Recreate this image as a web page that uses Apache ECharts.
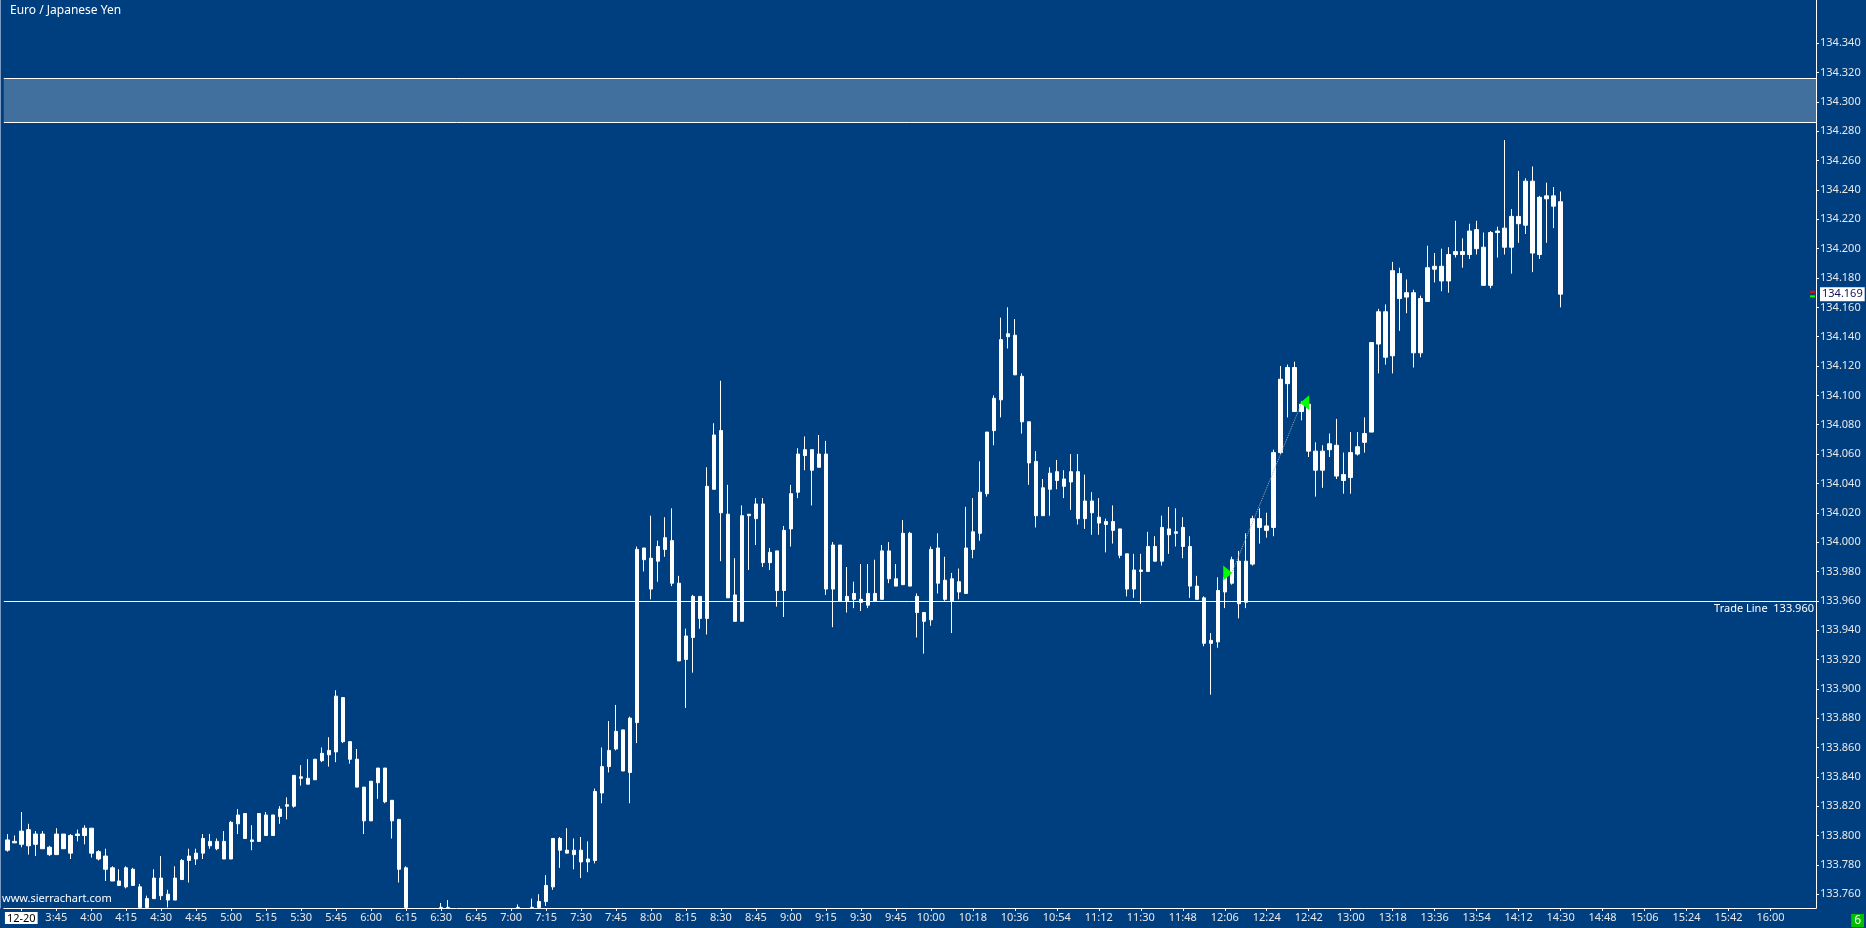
<!DOCTYPE html>
<html><head><meta charset="utf-8">
<script src="https://cdn.jsdelivr.net/npm/echarts@6/dist/echarts.min.js"></script>
<style>html,body{margin:0;padding:0;background:#003f7f;}#c{width:1866px;height:928px;}</style>
</head><body><div id="c"></div>
<script>
// 3-minute slots on the time axis (first bar 3:24)
const timeSlots = [
'3:24','3:27','3:30','3:33','3:36','3:39','3:42','3:45','3:48','3:51','3:54','3:57',
'4:00','4:03','4:06','4:09','4:12','4:15','4:18','4:21','4:24','4:27','4:30','4:33','4:36','4:39','4:42','4:45','4:48','4:51','4:54','4:57',
'5:00','5:03','5:06','5:09','5:12','5:15','5:18','5:21','5:24','5:27','5:30','5:33','5:36','5:39','5:42','5:45','5:48','5:51','5:54','5:57',
'6:00','6:03','6:06','6:09','6:12','6:15','6:18','6:21','6:24','6:27','6:30','6:33','6:36','6:39','6:42','6:45','6:48','6:51','6:54','6:57',
'7:00','7:03','7:06','7:09','7:12','7:15','7:18','7:21','7:24','7:27','7:30','7:33','7:36','7:39','7:42','7:45','7:48','7:51','7:54','7:57',
'8:00','8:03','8:06','8:09','8:12','8:15','8:18','8:21','8:24','8:27','8:30','8:33','8:36','8:39','8:42','8:45','8:48','8:51','8:54','8:57',
'9:00','9:03','9:06','9:09','9:12','9:15','9:18','9:21','9:24','9:27','9:30','9:33','9:36','9:39','9:42','9:45','9:48','9:51','9:54','9:57',
'10:00','10:03','10:06','10:09','10:12','10:15','10:18','10:21','10:24','10:27','10:30','10:33','10:36','10:39','10:42','10:45','10:48','10:51','10:54','10:57',
'11:00','11:03','11:06','11:09','11:12','11:15','11:18','11:21','11:24','11:27','11:30','11:33','11:36','11:39','11:42','11:45','11:48','11:51','11:54','11:57',
'12:00','12:03','12:06','12:09','12:12','12:15','12:18','12:21','12:24','12:27','12:30','12:33','12:36','12:39','12:42','12:45','12:48','12:51','12:54','12:57',
'13:00','13:03','13:06','13:09','13:12','13:15','13:18','13:21','13:24','13:27','13:30','13:33','13:36','13:39','13:42','13:45','13:48','13:51','13:54','13:57',
'14:00','14:03','14:06','14:09','14:12','14:15','14:18','14:21','14:24','14:27','14:30','14:33','14:36','14:39','14:42','14:45','14:48','14:51','14:54','14:57',
'15:00','15:03','15:06','15:09','15:12','15:15','15:18','15:21','15:24','15:27','15:30','15:33','15:36','15:39','15:42','15:45','15:48','15:51','15:54','15:57',
'16:00','16:03','16:06','16:09','16:12','16:15','16:18'
];

// EUR/JPY 3-minute bars: [open, close, low, high]
// (where a bar runs off the bottom of the visible range, the hidden part is read as the chart floor 133.751)
const eurJpyBars = [
[133.790,133.797,133.789,133.801],[133.795,133.796,133.795,133.800],[133.803,133.794,133.792,133.816],[133.804,133.793,133.787,133.808],
[133.801,133.794,133.786,133.803],[133.801,133.791,133.791,133.803],[133.787,133.792,133.786,133.793],[133.787,133.801,133.787,133.805],
[133.801,133.791,133.791,133.801],[133.788,133.800,133.784,133.801],[133.800,133.801,133.796,133.804],[133.805,133.800,133.794,133.807],
[133.805,133.788,133.785,133.805],[133.789,133.784,133.783,133.790],[133.786,133.777,133.769,133.791],[133.778,133.769,133.769,133.779],
[133.766,133.769,133.766,133.777],[133.778,133.765,133.764,133.779],[133.777,133.766,133.766,133.778],[133.765,133.751,133.751,133.767],
[133.751,133.757,133.751,133.759],[133.757,133.771,133.757,133.777],[133.771,133.759,133.756,133.786],[133.756,133.760,133.751,133.763],
[133.756,133.771,133.756,133.779],[133.770,133.783,133.770,133.784],[133.783,133.786,133.768,133.791],[133.784,133.788,133.780,133.791],
[133.788,133.798,133.784,133.801],[133.796,133.793,133.791,133.801],[133.796,133.791,133.790,133.798],[133.784,133.796,133.784,133.803],
[133.784,133.809,133.784,133.810],[133.814,133.808,133.801,133.818],[133.815,133.798,133.798,133.815],[133.796,133.797,133.790,133.807],
[133.796,133.815,133.796,133.815],[133.814,133.800,133.800,133.816],[133.800,133.814,133.800,133.814],[133.813,133.818,133.808,133.820],
[133.820,133.821,133.811,133.826],[133.820,133.841,133.819,133.841],[133.840,133.839,133.834,133.848],[133.835,133.839,133.835,133.852],
[133.838,133.852,133.838,133.852],[133.851,133.856,133.850,133.860],[133.855,133.858,133.847,133.867],[133.857,133.895,133.850,133.899],
[133.894,133.864,133.863,133.894],[133.864,133.852,133.849,133.864],[133.852,133.833,133.833,133.859],[133.833,133.810,133.801,133.833],
[133.810,133.837,133.810,133.837],[133.846,133.836,133.825,133.846],[133.846,133.823,133.822,133.846],[133.824,133.810,133.798,133.824],
[133.811,133.777,133.768,133.811],[133.778,133.751,133.751,133.779],[133.738,133.722,133.718,133.741],[133.718,133.730,133.712,133.736],
[133.728,133.720,133.715,133.734],[133.726,133.742,133.722,133.746],[133.751,133.751,133.751,133.754],[133.751,133.751,133.751,133.756],
[133.740,133.728,133.724,133.745],[133.734,133.722,133.718,133.742],[133.730,133.716,133.712,133.736],[133.714,133.726,133.710,133.732],
[133.720,133.732,133.716,133.738],[133.726,133.736,133.722,133.742],[133.728,133.738,133.724,133.744],[133.732,133.742,133.728,133.748],
[133.734,133.744,133.730,133.749],[133.751,133.751,133.751,133.753],[133.735,133.744,133.731,133.749],[133.751,133.751,133.751,133.757],
[133.751,133.755,133.751,133.760],[133.755,133.766,133.752,133.773],[133.765,133.798,133.763,133.798],[133.798,133.790,133.778,133.799],
[133.790,133.788,133.788,133.805],[133.790,133.787,133.777,133.798],[133.790,133.782,133.771,133.799],[133.782,133.784,133.775,133.796],
[133.783,133.830,133.781,133.832],[133.829,133.847,133.822,133.860],[133.847,133.858,133.843,133.878],[133.859,133.871,133.858,133.889],
[133.872,133.844,133.844,133.872],[133.843,133.880,133.822,133.881],[133.877,133.995,133.863,133.997],[133.996,133.988,133.980,133.996],
[133.989,133.968,133.961,134.018],[133.987,133.997,133.973,134.001],[133.995,134.003,133.990,134.017],[134.001,133.972,133.970,134.023],
[133.972,133.919,133.919,133.977],[133.920,133.936,133.887,133.941],[133.935,133.963,133.911,133.964],[133.963,133.948,133.941,133.963],
[133.948,134.038,133.937,134.051],[134.036,134.073,134.036,134.081],[134.076,134.020,133.987,134.110],[134.019,133.962,133.962,134.039],
[133.964,133.946,133.946,133.989],[133.946,134.018,133.946,134.025],[134.019,134.018,133.981,134.019],[134.016,134.026,133.998,134.030],
[134.026,133.986,133.983,134.030],[133.986,133.993,133.981,133.996],[133.994,133.967,133.956,133.994],[133.967,134.008,133.949,134.011],
[134.009,134.033,133.997,134.039],[134.034,134.060,134.030,134.064],[134.059,134.063,134.049,134.072],[134.063,134.049,134.025,134.063],
[134.051,134.060,134.051,134.073],[134.060,133.968,133.964,134.069],[133.968,133.998,133.942,134.000],[133.998,133.960,133.960,133.998],
[133.960,133.963,133.952,133.983],[133.965,133.961,133.955,133.973],[133.961,133.959,133.953,133.985],[133.957,133.965,133.955,133.985],
[133.965,133.960,133.960,133.988],[133.961,133.994,133.961,133.998],[133.994,133.975,133.972,134.000],[133.975,133.970,133.970,133.985],
[133.971,134.006,133.971,134.015],[134.006,133.970,133.970,134.007],[133.963,133.952,133.935,133.965],[133.952,133.946,133.924,133.952],
[133.947,133.995,133.943,133.997],[133.996,133.972,133.965,134.006],[133.974,133.961,133.960,133.990],[133.960,133.975,133.938,133.979],
[133.973,133.966,133.961,133.982],[133.965,133.996,133.965,134.024],[133.995,134.007,133.989,134.030],[134.006,134.034,134.001,134.055],
[134.033,134.075,134.031,134.075],[134.076,134.098,134.066,134.100],[134.097,134.138,134.085,134.153],[134.140,134.142,134.132,134.160],
[134.141,134.114,134.114,134.152],[134.113,134.082,134.074,134.115],[134.082,134.054,134.039,134.082],[134.055,134.018,134.010,134.062],
[134.018,134.037,134.018,134.043],[134.036,134.047,134.018,134.051],[134.048,134.042,134.036,134.056],[134.043,134.038,134.030,134.049],
[134.041,134.048,134.022,134.060],[134.048,134.016,134.012,134.060],[134.016,134.028,134.009,134.046],[134.028,134.020,134.005,134.034],
[134.017,134.013,134.005,134.030],[134.014,134.012,133.993,134.016],[134.014,134.008,133.999,134.025],[134.009,133.991,133.989,134.009],
[133.992,133.968,133.963,133.992],[133.968,133.981,133.962,133.992],[133.981,133.980,133.958,133.992],[133.980,133.997,133.980,134.007],
[133.997,133.987,133.987,134.004],[133.987,134.010,133.984,134.018],[134.009,134.005,133.992,134.024],[134.006,134.007,133.997,134.023],
[134.010,133.997,133.989,134.017],[133.997,133.970,133.962,134.004],[133.970,133.961,133.961,133.977],[133.962,133.931,133.929,133.963],
[133.931,133.933,133.896,133.938],[133.932,133.967,133.928,133.976],[133.966,133.976,133.955,133.976],[133.972,133.988,133.971,133.990],
[133.987,133.958,133.948,133.994],[133.959,133.987,133.955,134.006],[133.985,134.016,133.984,134.018],[134.016,134.010,133.999,134.023],
[134.008,134.011,134.003,134.020],[134.010,134.061,134.004,134.063],[134.061,134.111,134.060,134.120],[134.108,134.119,134.085,134.121],
[134.119,134.089,134.089,134.123],[134.089,134.094,134.083,134.096],[134.094,134.062,134.058,134.094],[134.062,134.049,134.031,134.068],
[134.049,134.062,134.037,134.066],[134.063,134.067,134.058,134.074],[134.066,134.045,134.043,134.084],[134.046,134.042,134.033,134.061],
[134.044,134.061,134.033,134.075],[134.060,134.065,134.059,134.075],[134.068,134.074,134.061,134.085],[134.075,134.136,134.075,134.136],
[134.135,134.157,134.115,134.159],[134.157,134.126,134.121,134.162],[134.127,134.185,134.115,134.191],[134.183,134.166,134.144,134.187],
[134.170,134.167,134.156,134.179],[134.170,134.129,134.119,134.172],[134.129,134.166,134.126,134.168],[134.164,134.187,134.164,134.202],
[134.188,134.186,134.177,134.197],[134.188,134.178,134.171,134.200],[134.178,134.196,134.170,134.201],[134.196,134.198,134.194,134.219],
[134.198,134.196,134.187,134.207],[134.196,134.212,134.193,134.217],[134.200,134.213,134.196,134.219],[134.201,134.175,134.175,134.211],
[134.175,134.211,134.173,134.212],[134.211,134.212,134.194,134.215],[134.214,134.201,134.196,134.274],[134.201,134.222,134.183,134.227],
[134.222,134.217,134.204,134.253],[134.216,134.246,134.210,134.248],[134.246,134.197,134.184,134.256],[134.196,134.235,134.193,134.236],
[134.234,134.236,134.204,134.245],[134.236,134.229,134.214,134.242],[134.232,134.169,134.160,134.239]
];

const priceTicks = [133.76,133.78,133.80,133.82,133.84,133.86,133.88,133.90,133.92,133.94,133.96,133.98,
  134.00,134.02,134.04,134.06,134.08,134.10,134.12,134.14,134.16,134.18,134.20,134.22,134.24,134.26,134.28,134.30,134.32,134.34];
const timeTickLabels = ['3:45','4:00','4:15','4:30','4:45','5:00','5:15','5:30','5:45','6:00','6:15','6:30','6:45',
  '7:00','7:15','7:30','7:45','8:00','8:15','8:30','8:45','9:00','9:15','9:30','9:45','10:00',
  '10:18','10:36','10:54','11:12','11:30','11:48','12:06','12:24','12:42','13:00','13:18','13:36','13:54',
  '14:12','14:30','14:48','15:06','15:24','15:42','16:00'];
const dateSlot = '3:30';
const dateText = '12-20';
const tradeLine = 133.960;
const zoneTop = 134.3162;
const zoneBottom = 134.2864;
const lastPrice = 134.169;
const tradeEntry = ['12:06', 133.979];
const tradeExit = ['12:42', 134.095];
const tradePathStart = ['12:09', 133.979];
const tradePathEnd = ['12:39', 134.095];
const lastBidAsk = [['16:18', 134.1706, '#ff0000'], ['16:18', 134.1675, '#00ff00']];

const FONT = 'Noto Sans';
const labelSet = new Set(timeTickLabels.concat([dateSlot]));
const showLabel = (i, v) => labelSet.has(v);

const chart = echarts.init(document.getElementById('c'));
chart.setOption({
  animation: false,
  backgroundColor: '#003f7f',
  textStyle: {fontFamily: FONT},
  title: {
    text: 'Euro / Japanese Yen', left: 5, top: 0,
    textStyle: {color: '#ffffff', fontSize: 12, fontWeight: 'normal', fontFamily: FONT}
  },
  grid: {left: 3.8, right: 50, top: 0, bottom: 20},
  xAxis: {
    type: 'category', data: timeSlots, boundaryGap: true,
    axisLine: {show: true, lineStyle: {color: '#ffffff', width: 1}},
    axisTick: {show: true, alignWithLabel: true, interval: showLabel, length: 3, lineStyle: {color: '#ffffff'}},
    axisLabel: {
      interval: showLabel, color: '#e8e8e8', fontSize: 11, margin: 4, fontFamily: FONT,
      formatter: v => v === dateSlot ? '{d|' + dateText + '}' : v,
      rich: {d: {backgroundColor: '#ffffff', color: '#000000', padding: [1, 2, 0, 2], fontSize: 11, fontFamily: FONT}}
    },
    splitLine: {show: false}
  },
  yAxis: [{
    type: 'value', position: 'right', min: 133.7506, max: 134.3695, scale: true,
    axisLine: {show: true, lineStyle: {color: '#ffffff', width: 1}},
    axisTick: {show: true, customValues: priceTicks, length: 3, lineStyle: {color: '#ffffff'}},
    axisLabel: {customValues: priceTicks, color: '#e8e8e8', fontSize: 11, margin: 4, fontFamily: FONT,
      formatter: v => v.toFixed(3)},
    splitLine: {show: false}
  }, {
    type: 'value', position: 'left', min: 133.7506, max: 134.3695, offset: 3.3,
    axisLine: {show: true, lineStyle: {color: '#7b9bc2', width: 1}},
    axisTick: {show: false}, axisLabel: {show: false}, splitLine: {show: false}
  }],
  series: [{
    type: 'candlestick', name: 'EURJPY', data: eurJpyBars, clip: true, barWidth: 4,
    itemStyle: {color: '#ffffff', color0: '#ffffff', borderColor: '#ffffff', borderColor0: '#ffffff', borderWidth: 1},
    markArea: {
      silent: true, precision: 4,
      itemStyle: {color: '#42709e'},
      data: [[{yAxis: zoneTop}, {yAxis: zoneBottom}]]
    },
    markLine: {
      silent: true, symbol: 'none', animation: false, precision: 4,
      data: [
        {yAxis: zoneTop, lineStyle: {color: '#ffffff', width: 1, type: 'solid'}, label: {show: false}},
        {yAxis: zoneBottom, lineStyle: {color: '#ffffff', width: 1, type: 'solid'}, label: {show: false}},
        {yAxis: tradeLine, lineStyle: {color: '#ffffff', width: 1, type: 'solid'},
          label: {show: true, position: 'insideEndBottom', distance: [2, 3], formatter: 'Trade Line  ' + tradeLine.toFixed(3),
            color: '#ffffff', fontSize: 11, fontFamily: FONT}},
        {yAxis: lastPrice, lineStyle: {color: 'rgba(0,0,0,0)', width: 1, type: 'solid'},
          label: {show: true, position: 'end', distance: 4, formatter: lastPrice.toFixed(3), opacity: 1,
            backgroundColor: '#ffffff', color: '#141452', padding: [2, 2, 1, 2], fontSize: 11, fontFamily: FONT}},
        [{coord: tradePathStart, lineStyle: {color: '#a8a8a8', width: 1, type: 'dotted'}, label: {show: false}},
         {coord: tradePathEnd}]
      ]
    },
    markPoint: {
      silent: true, label: {show: false},
      data: [
        {coord: tradeEntry, symbol: 'triangle', symbolSize: [15, 9], symbolRotate: -90, symbolOffset: [3, 0], itemStyle: {color: '#00ff00'}},
        {coord: tradeExit, symbol: 'triangle', symbolSize: [15, 9], symbolRotate: 90, symbolOffset: [-4, 0], itemStyle: {color: '#00ff00'}}
      ].concat(lastBidAsk.map(m => ({coord: [m[0], m[1]], symbol: 'rect', symbolSize: [5, 2], itemStyle: {color: m[2]}})))
    }
  }],
  graphic: [
    {type: 'text', left: 2, top: 893, style: {text: 'www.sierrachart.com', fill: '#ffffff', font: '11px "Noto Sans"'}},
    {type: 'text', right: 2, bottom: 1, style: {text: '6', fill: '#ffffff', backgroundColor: '#00c000', padding: [1, 3, 0, 3], font: '12px "Noto Sans"'}}
  ]
});
</script>
</body></html>
